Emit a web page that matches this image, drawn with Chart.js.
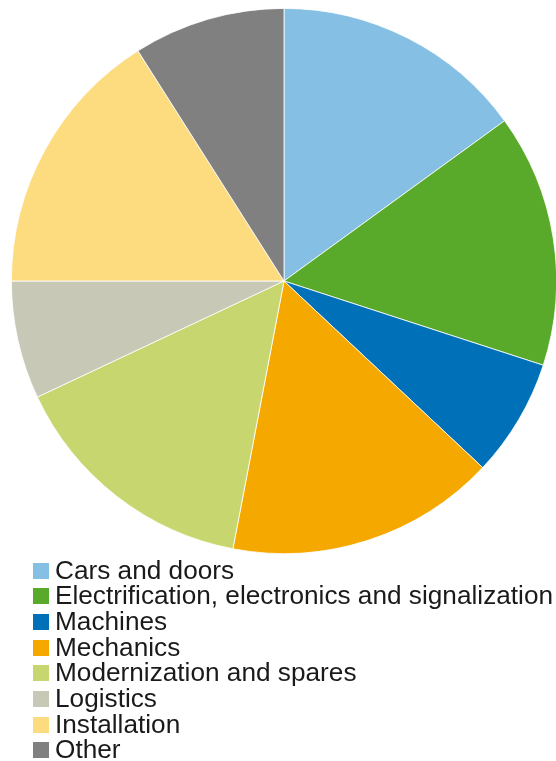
<!DOCTYPE html>
<html>
<head>
<meta charset="utf-8">
<script src="https://cdn.jsdelivr.net/npm/chart.js@4/dist/chart.umd.min.js"></script>
<style>
    html, body { margin: 0; padding: 0; background: #fff; overflow: hidden; width: 556px; height: 761px; }
    #wrap { position: relative; width: 556px; height: 761px; }
    #pieChart { position: absolute; left: 0; top: 0; }
    #legend {
        position: absolute; left: 33px; top: 557.5px; margin: 0; padding: 0; list-style: none;
        font-family: "Liberation Sans", Arial, sans-serif; font-size: 25px; line-height: 25.7px; color: #1a1a1a;
        white-space: nowrap;
    }
    #legend .box { display: inline-block; width: 16px; height: 16px; margin-right: 6px; }
    #legend .txt { display: inline-block; transform: scaleX(1.048); transform-origin: left center; }
</style>
</head>
<body>
<div id="wrap">
    <canvas id="pieChart" width="568" height="562"></canvas>
    <ul id="legend"></ul>
</div>
<script>
// segment names, shares (percent) and fill colours
const categories = [
    'Cars and doors',
    'Electrification, electronics and signalization',
    'Machines',
    'Mechanics',
    'Modernization and spares',
    'Logistics',
    'Installation',
    'Other'
];
const shares = [15, 15, 7, 16, 15, 7, 16, 9];
const colors = ['#85C0E4', '#59A92A', '#0071B9', '#F5A800', '#C7D66F', '#C8C8B6', '#FDDC80', '#808080'];

/**
 * Builds the legend list below the pie.
 */
function renderLegend() {
    const list = document.getElementById('legend');
    categories.forEach((name, i) => {
        const li = document.createElement('li');
        const box = document.createElement('span');
        box.className = 'box';
        box.style.background = colors[i];
        const txt = document.createElement('span');
        txt.className = 'txt';
        txt.textContent = name;
        li.appendChild(box);
        li.appendChild(txt);
        list.appendChild(li);
    });
}

/**
 * Renders the pie chart.
 */
function renderPieChart() {
    const ctx = document.getElementById('pieChart');
    new Chart(ctx, {
        type: 'pie',
        data: {
            labels: categories,
            datasets: [{
                data: shares,
                backgroundColor: colors,
                borderColor: '#ffffff',
                borderWidth: 0.8
            }]
        },
        options: {
            responsive: false,
            animation: false,
            layout: { padding: { left: 11, right: 11, top: 8, bottom: 8 } },
            plugins: {
                legend: { display: false },
                tooltip: { enabled: false }
            }
        }
    });
}

renderPieChart();
renderLegend();
</script>
</body>
</html>
